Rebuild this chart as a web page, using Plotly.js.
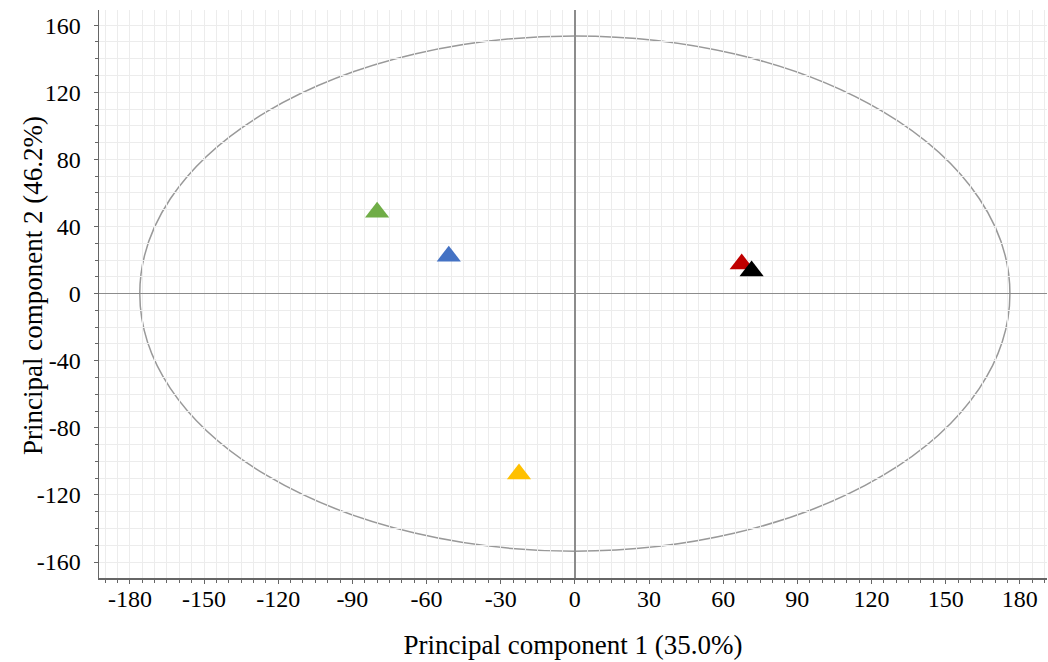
<!DOCTYPE html>
<html>
<head>
<meta charset="utf-8">
<script src="https://cdn.plot.ly/plotly-3.0.1.min.js"></script>
<style>html,body{margin:0;padding:0;background:#fff;}#chart{width:1048px;height:662px;}</style>
</head>
<body>
<div id="chart"></div>
<script>
// Sample scores (PC1, PC2)
const pc1 = [-80, -51, -22.6, 67.5, 71.5];
const pc2 = [48.5, 22.3, -107.5, 17.6, 13.4];
const colors = ["#70AD47", "#4472C4", "#FFC000", "#C00000", "#000000"];
// Confidence ellipse semi-axes
const ellipseA = 176;
const ellipseB = 153.5;
// Tick labels
const xTicks = [-180, -150, -120, -90, -60, -30, 0, 30, 60, 90, 120, 150, 180];
const yTicks = [-160, -120, -80, -40, 0, 40, 80, 120, 160];
const xTickText = xTicks.map(String);
const yTickText = yTicks.map(String);
const xTitle = "Principal component 1 (35.0%)";
const yTitle = "Principal component 2 (46.2%)";

const fam = "Liberation Serif, Times New Roman, serif";
const grid = "#ececec";

const traces = pc1.map((x, i) => ({
  type: "scatter", mode: "markers",
  x: [x], y: [pc2[i]],
  marker: {symbol: "triangle-up", size: 21, color: colors[i], line: {width: 0}},
  showlegend: false, hoverinfo: "skip"
}));

const layout = {
  width: 1048, height: 662,
  margin: {l: 99, r: 1, t: 10, b: 84},
  paper_bgcolor: "#fff", plot_bgcolor: "#fff",
  font: {family: fam, color: "#000"},
  showlegend: false,
  xaxis: {
    range: [-192.5, 191], tickmode: "array", tickvals: xTicks, ticktext: xTickText,
    showgrid: true, gridcolor: grid, gridwidth: 1,
    minor: {tickmode: "linear", tick0: 0, dtick: 5, showgrid: true, gridcolor: grid, gridwidth: 1, ticks: "outside", ticklen: 3, tickcolor: "#666"},
    zeroline: true, zerolinecolor: "#8c8c8c", zerolinewidth: 1.8,
    showline: true, linecolor: "#666", linewidth: 1.5,
    ticks: "outside", ticklen: 4, tickcolor: "#666",
    tickfont: {family: fam, size: 24, color: "#000"},
    ticklabelstandoff: -5,
    title: {text: xTitle, font: {family: fam, size: 27, color: "#000"}, standoff: 24},
    automargin: false, fixedrange: true
  },
  yaxis: {
    range: [-169.5, 169], tickmode: "array", tickvals: yTicks, ticktext: yTickText,
    showgrid: true, gridcolor: grid, gridwidth: 1,
    minor: {tickmode: "linear", tick0: 0, dtick: 10, showgrid: true, gridcolor: grid, gridwidth: 1, ticks: "outside", ticklen: 3, tickcolor: "#666"},
    zeroline: true, zerolinecolor: "#8c8c8c", zerolinewidth: 1.8,
    showline: true, linecolor: "#666", linewidth: 1.5,
    ticks: "outside", ticklen: 4, tickcolor: "#666",
    tickfont: {family: fam, size: 24, color: "#000"},
    ticklabelstandoff: 8,
    automargin: false, fixedrange: true
  },
  annotations: [{
    text: yTitle, textangle: -90, showarrow: false,
    xref: "paper", yref: "paper", x: 0, y: 0.5,
    xanchor: "center", yanchor: "middle", xshift: -66, yshift: 8,
    font: {family: fam, size: 27, color: "#000"}
  }],
  shapes: [{
    type: "circle", xref: "x", yref: "y",
    x0: -ellipseA, x1: ellipseA, y0: -ellipseB, y1: ellipseB,
    line: {color: "#999", width: 1.5}, layer: "below"
  }]
};

Plotly.newPlot("chart", traces, layout, {displayModeBar: false, staticPlot: true});
</script>
</body>
</html>
